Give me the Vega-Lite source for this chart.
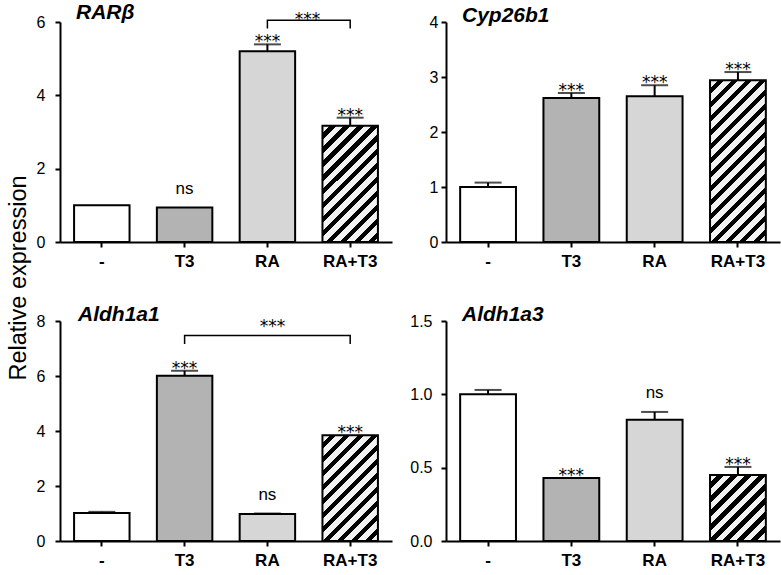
{
"$schema":"https://vega.github.io/schema/vega-lite/v6.json",
"padding":{"left":6,"top":2,"right":3,"bottom":3},
"background":"#ffffff",
"title":{"text":"Relative expression","orient":"left","anchor":"middle","fontSize":23.5,"fontWeight":"normal","fontStyle":"normal","font":"Liberation Sans","color":"#000","offset":6,"dx":7},
"datasets":{
"bars":[
{"panel":"RARβ","g":"-","mean":1.0,"upper":1.0,"sig":""},
{"panel":"RARβ","g":"T3","mean":0.94,"upper":0.94,"sig":"ns"},
{"panel":"RARβ","g":"RA","mean":5.2,"upper":5.39,"sig":"***"},
{"panel":"RARβ","g":"RA+T3","mean":3.17,"upper":3.39,"sig":"***"},
{"panel":"Cyp26b1","g":"-","mean":1.0,"upper":1.08,"sig":""},
{"panel":"Cyp26b1","g":"T3","mean":2.62,"upper":2.71,"sig":"***"},
{"panel":"Cyp26b1","g":"RA","mean":2.65,"upper":2.85,"sig":"***"},
{"panel":"Cyp26b1","g":"RA+T3","mean":2.94,"upper":3.09,"sig":"***"},
{"panel":"Aldh1a1","g":"-","mean":1.02,"upper":1.06,"sig":""},
{"panel":"Aldh1a1","g":"T3","mean":6.01,"upper":6.19,"sig":"***"},
{"panel":"Aldh1a1","g":"RA","mean":0.98,"upper":1.0,"sig":"ns"},
{"panel":"Aldh1a1","g":"RA+T3","mean":3.85,"upper":3.85,"sig":"***"},
{"panel":"Aldh1a3","g":"-","mean":1.0,"upper":1.03,"sig":""},
{"panel":"Aldh1a3","g":"T3","mean":0.43,"upper":0.43,"sig":"***"},
{"panel":"Aldh1a3","g":"RA","mean":0.827,"upper":0.88,"sig":"ns"},
{"panel":"Aldh1a3","g":"RA+T3","mean":0.45,"upper":0.505,"sig":"***"}
],
"brackets":[
{"panel":"RARβ","g":"RA","y":5.82,"o":1},{"panel":"RARβ","g":"RA","y":6.05,"o":2},{"panel":"RARβ","g":"RA+T3","y":6.05,"o":3},{"panel":"RARβ","g":"RA+T3","y":5.82,"o":4},
{"panel":"Aldh1a1","g":"T3","y":7.16,"o":1},{"panel":"Aldh1a1","g":"T3","y":7.47,"o":2},{"panel":"Aldh1a1","g":"RA+T3","y":7.47,"o":3},{"panel":"Aldh1a1","g":"RA+T3","y":7.16,"o":4}
],
"bracketLabels":[
{"panel":"RARβ","g":"RA","y":6.0,"label":"***"},
{"panel":"Aldh1a1","g":"RA","y":7.71,"label":"***"}
]
},
"columns":2,
"spacing":{"row":35,"column":17},
"concat":[
{
"width":332,"height":220,
"title":{"text":"RARβ","anchor":"start","frame":"group","dx":16,"fontSize":21,"fontStyle":"italic","fontWeight":"bold","font":"Liberation Sans","color":"#000","offset":-29,"baseline":"alphabetic"},
"encoding":{"x":{"field":"g","type":"nominal","title":null,"scale":{"domain":["-","T3","RA","RA+T3"],"paddingInner":0.33,"paddingOuter":0.17},"axis":{"labelAngle":0,"labelFontWeight":"bold","labelFontSize":17,"labelPadding":6}}},
"layer":[
{"data":{"name":"bars"},"transform":[{"filter":"datum.panel==='RARβ'"}],"mark":{"type":"bar","stroke":"#000","strokeWidth":2},
"encoding":{"y":{"field":"mean","type":"quantitative","title":null,"scale":{"domain":[0,6],"nice":false},"axis":{"values":[0,2,4,6],"format":"d","labelPadding":10}},
"fill":{"condition":[{"test":"datum.g==='-'","value":"#ffffff"},{"test":"datum.g==='T3'","value":"#b3b3b3"},{"test":"datum.g==='RA'","value":"#d6d6d6"}],
"value":{"gradient":"linear","x1":0,"y1":0,"x2":0.746,"y2":1.565,"stops":[
{"offset":0,"color":"#f2f2f2"},{"offset":0.0344,"color":"#f2f2f2"},{"offset":0.0344,"color":"#000"},{"offset":0.0625,"color":"#000"},
{"offset":0.0625,"color":"#f2f2f2"},{"offset":0.0969,"color":"#f2f2f2"},{"offset":0.0969,"color":"#000"},{"offset":0.125,"color":"#000"},
{"offset":0.125,"color":"#f2f2f2"},{"offset":0.1594,"color":"#f2f2f2"},{"offset":0.1594,"color":"#000"},{"offset":0.1875,"color":"#000"},
{"offset":0.1875,"color":"#f2f2f2"},{"offset":0.2219,"color":"#f2f2f2"},{"offset":0.2219,"color":"#000"},{"offset":0.25,"color":"#000"},
{"offset":0.25,"color":"#f2f2f2"},{"offset":0.2844,"color":"#f2f2f2"},{"offset":0.2844,"color":"#000"},{"offset":0.3125,"color":"#000"},
{"offset":0.3125,"color":"#f2f2f2"},{"offset":0.3469,"color":"#f2f2f2"},{"offset":0.3469,"color":"#000"},{"offset":0.375,"color":"#000"},
{"offset":0.375,"color":"#f2f2f2"},{"offset":0.4094,"color":"#f2f2f2"},{"offset":0.4094,"color":"#000"},{"offset":0.4375,"color":"#000"},
{"offset":0.4375,"color":"#f2f2f2"},{"offset":0.4719,"color":"#f2f2f2"},{"offset":0.4719,"color":"#000"},{"offset":0.5,"color":"#000"},
{"offset":0.5,"color":"#f2f2f2"},{"offset":0.5344,"color":"#f2f2f2"},{"offset":0.5344,"color":"#000"},{"offset":0.5625,"color":"#000"},
{"offset":0.5625,"color":"#f2f2f2"},{"offset":0.5969,"color":"#f2f2f2"},{"offset":0.5969,"color":"#000"},{"offset":0.625,"color":"#000"},
{"offset":0.625,"color":"#f2f2f2"},{"offset":0.6594,"color":"#f2f2f2"},{"offset":0.6594,"color":"#000"},{"offset":0.6875,"color":"#000"},
{"offset":0.6875,"color":"#f2f2f2"},{"offset":0.7219,"color":"#f2f2f2"},{"offset":0.7219,"color":"#000"},{"offset":0.75,"color":"#000"},
{"offset":0.75,"color":"#f2f2f2"},{"offset":0.7844,"color":"#f2f2f2"},{"offset":0.7844,"color":"#000"},{"offset":0.8125,"color":"#000"},
{"offset":0.8125,"color":"#f2f2f2"},{"offset":0.8469,"color":"#f2f2f2"},{"offset":0.8469,"color":"#000"},{"offset":0.875,"color":"#000"},
{"offset":0.875,"color":"#f2f2f2"},{"offset":0.9094,"color":"#f2f2f2"},{"offset":0.9094,"color":"#000"},{"offset":0.9375,"color":"#000"},
{"offset":0.9375,"color":"#f2f2f2"},{"offset":0.9719,"color":"#f2f2f2"},{"offset":0.9719,"color":"#000"},{"offset":1,"color":"#000"}]}}}},
{"data":{"name":"bars"},"transform":[{"filter":"datum.panel==='RARβ' && datum.upper>datum.mean"}],"mark":{"type":"rule","strokeWidth":2,"color":"#000"},
"encoding":{"y":{"field":"mean","type":"quantitative","title":null,"scale":{"domain":[0,6],"nice":false}},"y2":{"field":"upper"}}},
{"data":{"name":"bars"},"transform":[{"filter":"datum.panel==='RARβ' && datum.upper>datum.mean"}],"mark":{"type":"tick","size":27,"thickness":2,"color":"#000"},
"encoding":{"y":{"field":"upper","type":"quantitative","title":null,"scale":{"domain":[0,6],"nice":false}}}},
{"data":{"name":"bars"},"transform":[{"filter":"datum.panel==='RARβ' && datum.sig==='***'"}],"mark":{"type":"text","font":"DejaVu Sans","fontSize":17,"dy":3,"baseline":"alphabetic","color":"#000"},
"encoding":{"y":{"field":"upper","type":"quantitative","title":null,"scale":{"domain":[0,6],"nice":false}},"text":{"field":"sig"}}},
{"data":{"name":"bars"},"transform":[{"filter":"datum.panel==='RARβ' && datum.sig==='ns'"}],"mark":{"type":"text","font":"Liberation Sans","fontSize":17,"dy":-13.6,"baseline":"alphabetic","color":"#000"},
"encoding":{"y":{"field":"upper","type":"quantitative","title":null,"scale":{"domain":[0,6],"nice":false}},"text":{"field":"sig"}}},
{"data":{"name":"brackets"},"transform":[{"filter":"datum.panel==='RARβ'"}],"mark":{"type":"line","color":"#000","strokeWidth":1.5},
"encoding":{"y":{"field":"y","type":"quantitative","title":null,"scale":{"domain":[0,6],"nice":false}},"order":{"field":"o"}}},
{"data":{"name":"bracketLabels"},"transform":[{"filter":"datum.panel==='RARβ'"}],"mark":{"type":"text","font":"DejaVu Sans","fontSize":17,"dy":3,"dx":40,"baseline":"alphabetic","color":"#000"},
"encoding":{"y":{"field":"y","type":"quantitative","title":null,"scale":{"domain":[0,6],"nice":false}},"text":{"field":"label"}}}
]
},
{
"width":334,"height":220,
"title":{"text":"Cyp26b1","anchor":"start","frame":"group","dx":16,"fontSize":21,"fontStyle":"italic","fontWeight":"bold","font":"Liberation Sans","color":"#000","offset":-29,"baseline":"alphabetic"},
"encoding":{"x":{"field":"g","type":"nominal","title":null,"scale":{"domain":["-","T3","RA","RA+T3"],"paddingInner":0.33,"paddingOuter":0.17},"axis":{"labelAngle":0,"labelFontWeight":"bold","labelFontSize":17,"labelPadding":6}}},
"layer":[
{"data":{"name":"bars"},"transform":[{"filter":"datum.panel==='Cyp26b1'"}],"mark":{"type":"bar","stroke":"#000","strokeWidth":2},
"encoding":{"y":{"field":"mean","type":"quantitative","title":null,"scale":{"domain":[0,4],"nice":false},"axis":{"values":[0,1,2,3,4],"format":"d","labelPadding":3}},
"fill":{"condition":[{"test":"datum.g==='-'","value":"#ffffff"},{"test":"datum.g==='T3'","value":"#b3b3b3"},{"test":"datum.g==='RA'","value":"#d6d6d6"}],
"value":{"gradient":"linear","x1":0,"y1":0,"x2":0.426,"y2":1.239,"stops":[
{"offset":0,"color":"#f2f2f2"},{"offset":0.0344,"color":"#f2f2f2"},{"offset":0.0344,"color":"#000"},{"offset":0.0625,"color":"#000"},
{"offset":0.0625,"color":"#f2f2f2"},{"offset":0.0969,"color":"#f2f2f2"},{"offset":0.0969,"color":"#000"},{"offset":0.125,"color":"#000"},
{"offset":0.125,"color":"#f2f2f2"},{"offset":0.1594,"color":"#f2f2f2"},{"offset":0.1594,"color":"#000"},{"offset":0.1875,"color":"#000"},
{"offset":0.1875,"color":"#f2f2f2"},{"offset":0.2219,"color":"#f2f2f2"},{"offset":0.2219,"color":"#000"},{"offset":0.25,"color":"#000"},
{"offset":0.25,"color":"#f2f2f2"},{"offset":0.2844,"color":"#f2f2f2"},{"offset":0.2844,"color":"#000"},{"offset":0.3125,"color":"#000"},
{"offset":0.3125,"color":"#f2f2f2"},{"offset":0.3469,"color":"#f2f2f2"},{"offset":0.3469,"color":"#000"},{"offset":0.375,"color":"#000"},
{"offset":0.375,"color":"#f2f2f2"},{"offset":0.4094,"color":"#f2f2f2"},{"offset":0.4094,"color":"#000"},{"offset":0.4375,"color":"#000"},
{"offset":0.4375,"color":"#f2f2f2"},{"offset":0.4719,"color":"#f2f2f2"},{"offset":0.4719,"color":"#000"},{"offset":0.5,"color":"#000"},
{"offset":0.5,"color":"#f2f2f2"},{"offset":0.5344,"color":"#f2f2f2"},{"offset":0.5344,"color":"#000"},{"offset":0.5625,"color":"#000"},
{"offset":0.5625,"color":"#f2f2f2"},{"offset":0.5969,"color":"#f2f2f2"},{"offset":0.5969,"color":"#000"},{"offset":0.625,"color":"#000"},
{"offset":0.625,"color":"#f2f2f2"},{"offset":0.6594,"color":"#f2f2f2"},{"offset":0.6594,"color":"#000"},{"offset":0.6875,"color":"#000"},
{"offset":0.6875,"color":"#f2f2f2"},{"offset":0.7219,"color":"#f2f2f2"},{"offset":0.7219,"color":"#000"},{"offset":0.75,"color":"#000"},
{"offset":0.75,"color":"#f2f2f2"},{"offset":0.7844,"color":"#f2f2f2"},{"offset":0.7844,"color":"#000"},{"offset":0.8125,"color":"#000"},
{"offset":0.8125,"color":"#f2f2f2"},{"offset":0.8469,"color":"#f2f2f2"},{"offset":0.8469,"color":"#000"},{"offset":0.875,"color":"#000"},
{"offset":0.875,"color":"#f2f2f2"},{"offset":0.9094,"color":"#f2f2f2"},{"offset":0.9094,"color":"#000"},{"offset":0.9375,"color":"#000"},
{"offset":0.9375,"color":"#f2f2f2"},{"offset":0.9719,"color":"#f2f2f2"},{"offset":0.9719,"color":"#000"},{"offset":1,"color":"#000"}]}}}},
{"data":{"name":"bars"},"transform":[{"filter":"datum.panel==='Cyp26b1' && datum.upper>datum.mean"}],"mark":{"type":"rule","strokeWidth":2,"color":"#000"},
"encoding":{"y":{"field":"mean","type":"quantitative","title":null,"scale":{"domain":[0,4],"nice":false}},"y2":{"field":"upper"}}},
{"data":{"name":"bars"},"transform":[{"filter":"datum.panel==='Cyp26b1' && datum.upper>datum.mean"}],"mark":{"type":"tick","size":27,"thickness":2,"color":"#000"},
"encoding":{"y":{"field":"upper","type":"quantitative","title":null,"scale":{"domain":[0,4],"nice":false}}}},
{"data":{"name":"bars"},"transform":[{"filter":"datum.panel==='Cyp26b1' && datum.sig==='***'"}],"mark":{"type":"text","font":"DejaVu Sans","fontSize":17,"dy":3,"baseline":"alphabetic","color":"#000"},
"encoding":{"y":{"field":"upper","type":"quantitative","title":null,"scale":{"domain":[0,4],"nice":false}},"text":{"field":"sig"}}}
]
},
{
"width":332,"height":220,
"title":{"text":"Aldh1a1","anchor":"start","frame":"group","dx":18,"fontSize":21,"fontStyle":"italic","fontWeight":"bold","font":"Liberation Sans","color":"#000","offset":-29,"baseline":"alphabetic"},
"encoding":{"x":{"field":"g","type":"nominal","title":null,"scale":{"domain":["-","T3","RA","RA+T3"],"paddingInner":0.33,"paddingOuter":0.17},"axis":{"labelAngle":0,"labelFontWeight":"bold","labelFontSize":17,"labelPadding":6}}},
"layer":[
{"data":{"name":"bars"},"transform":[{"filter":"datum.panel==='Aldh1a1'"}],"mark":{"type":"bar","stroke":"#000","strokeWidth":2},
"encoding":{"y":{"field":"mean","type":"quantitative","title":null,"scale":{"domain":[0,8],"nice":false},"axis":{"values":[0,2,4,6,8],"format":"d","labelPadding":10}},
"fill":{"condition":[{"test":"datum.g==='-'","value":"#ffffff"},{"test":"datum.g==='T3'","value":"#b3b3b3"},{"test":"datum.g==='RA'","value":"#d6d6d6"}],
"value":{"gradient":"linear","x1":0,"y1":0,"x2":0.871,"y2":1.658,"stops":[
{"offset":0,"color":"#f2f2f2"},{"offset":0.0344,"color":"#f2f2f2"},{"offset":0.0344,"color":"#000"},{"offset":0.0625,"color":"#000"},
{"offset":0.0625,"color":"#f2f2f2"},{"offset":0.0969,"color":"#f2f2f2"},{"offset":0.0969,"color":"#000"},{"offset":0.125,"color":"#000"},
{"offset":0.125,"color":"#f2f2f2"},{"offset":0.1594,"color":"#f2f2f2"},{"offset":0.1594,"color":"#000"},{"offset":0.1875,"color":"#000"},
{"offset":0.1875,"color":"#f2f2f2"},{"offset":0.2219,"color":"#f2f2f2"},{"offset":0.2219,"color":"#000"},{"offset":0.25,"color":"#000"},
{"offset":0.25,"color":"#f2f2f2"},{"offset":0.2844,"color":"#f2f2f2"},{"offset":0.2844,"color":"#000"},{"offset":0.3125,"color":"#000"},
{"offset":0.3125,"color":"#f2f2f2"},{"offset":0.3469,"color":"#f2f2f2"},{"offset":0.3469,"color":"#000"},{"offset":0.375,"color":"#000"},
{"offset":0.375,"color":"#f2f2f2"},{"offset":0.4094,"color":"#f2f2f2"},{"offset":0.4094,"color":"#000"},{"offset":0.4375,"color":"#000"},
{"offset":0.4375,"color":"#f2f2f2"},{"offset":0.4719,"color":"#f2f2f2"},{"offset":0.4719,"color":"#000"},{"offset":0.5,"color":"#000"},
{"offset":0.5,"color":"#f2f2f2"},{"offset":0.5344,"color":"#f2f2f2"},{"offset":0.5344,"color":"#000"},{"offset":0.5625,"color":"#000"},
{"offset":0.5625,"color":"#f2f2f2"},{"offset":0.5969,"color":"#f2f2f2"},{"offset":0.5969,"color":"#000"},{"offset":0.625,"color":"#000"},
{"offset":0.625,"color":"#f2f2f2"},{"offset":0.6594,"color":"#f2f2f2"},{"offset":0.6594,"color":"#000"},{"offset":0.6875,"color":"#000"},
{"offset":0.6875,"color":"#f2f2f2"},{"offset":0.7219,"color":"#f2f2f2"},{"offset":0.7219,"color":"#000"},{"offset":0.75,"color":"#000"},
{"offset":0.75,"color":"#f2f2f2"},{"offset":0.7844,"color":"#f2f2f2"},{"offset":0.7844,"color":"#000"},{"offset":0.8125,"color":"#000"},
{"offset":0.8125,"color":"#f2f2f2"},{"offset":0.8469,"color":"#f2f2f2"},{"offset":0.8469,"color":"#000"},{"offset":0.875,"color":"#000"},
{"offset":0.875,"color":"#f2f2f2"},{"offset":0.9094,"color":"#f2f2f2"},{"offset":0.9094,"color":"#000"},{"offset":0.9375,"color":"#000"},
{"offset":0.9375,"color":"#f2f2f2"},{"offset":0.9719,"color":"#f2f2f2"},{"offset":0.9719,"color":"#000"},{"offset":1,"color":"#000"}]}}}},
{"data":{"name":"bars"},"transform":[{"filter":"datum.panel==='Aldh1a1' && datum.upper>datum.mean"}],"mark":{"type":"rule","strokeWidth":2,"color":"#000"},
"encoding":{"y":{"field":"mean","type":"quantitative","title":null,"scale":{"domain":[0,8],"nice":false}},"y2":{"field":"upper"}}},
{"data":{"name":"bars"},"transform":[{"filter":"datum.panel==='Aldh1a1' && datum.upper>datum.mean"}],"mark":{"type":"tick","size":27,"thickness":2,"color":"#000"},
"encoding":{"y":{"field":"upper","type":"quantitative","title":null,"scale":{"domain":[0,8],"nice":false}}}},
{"data":{"name":"bars"},"transform":[{"filter":"datum.panel==='Aldh1a1' && datum.sig==='***'"}],"mark":{"type":"text","font":"DejaVu Sans","fontSize":17,"dy":3,"baseline":"alphabetic","color":"#000"},
"encoding":{"y":{"field":"upper","type":"quantitative","title":null,"scale":{"domain":[0,8],"nice":false}},"text":{"field":"sig"}}},
{"data":{"name":"bars"},"transform":[{"filter":"datum.panel==='Aldh1a1' && datum.sig==='ns'"}],"mark":{"type":"text","font":"Liberation Sans","fontSize":17,"dy":-13.6,"baseline":"alphabetic","color":"#000"},
"encoding":{"y":{"field":"upper","type":"quantitative","title":null,"scale":{"domain":[0,8],"nice":false}},"text":{"field":"sig"}}},
{"data":{"name":"brackets"},"transform":[{"filter":"datum.panel==='Aldh1a1'"}],"mark":{"type":"line","color":"#000","strokeWidth":1.5},
"encoding":{"y":{"field":"y","type":"quantitative","title":null,"scale":{"domain":[0,8],"nice":false}},"order":{"field":"o"}}},
{"data":{"name":"bracketLabels"},"transform":[{"filter":"datum.panel==='Aldh1a1'"}],"mark":{"type":"text","font":"DejaVu Sans","fontSize":17,"dy":3,"dx":5,"baseline":"alphabetic","color":"#000"},
"encoding":{"y":{"field":"y","type":"quantitative","title":null,"scale":{"domain":[0,8],"nice":false}},"text":{"field":"label"}}}
]
},
{
"width":334,"height":220,
"title":{"text":"Aldh1a3","anchor":"start","frame":"group","dx":16,"fontSize":21,"fontStyle":"italic","fontWeight":"bold","font":"Liberation Sans","color":"#000","offset":-29,"baseline":"alphabetic"},
"encoding":{"x":{"field":"g","type":"nominal","title":null,"scale":{"domain":["-","T3","RA","RA+T3"],"paddingInner":0.33,"paddingOuter":0.17},"axis":{"labelAngle":0,"labelFontWeight":"bold","labelFontSize":17,"labelPadding":6}}},
"layer":[
{"data":{"name":"bars"},"transform":[{"filter":"datum.panel==='Aldh1a3'"}],"mark":{"type":"bar","stroke":"#000","strokeWidth":2},
"encoding":{"y":{"field":"mean","type":"quantitative","title":null,"scale":{"domain":[0,1.5],"nice":false},"axis":{"values":[0,0.5,1,1.5],"format":".1f","labelPadding":9}},
"fill":{"condition":[{"test":"datum.g==='-'","value":"#ffffff"},{"test":"datum.g==='T3'","value":"#b3b3b3"},{"test":"datum.g==='RA'","value":"#d6d6d6"}],
"value":{"gradient":"linear","x1":0,"y1":0,"x2":1.673,"y2":1.979,"stops":[
{"offset":0,"color":"#f2f2f2"},{"offset":0.0344,"color":"#f2f2f2"},{"offset":0.0344,"color":"#000"},{"offset":0.0625,"color":"#000"},
{"offset":0.0625,"color":"#f2f2f2"},{"offset":0.0969,"color":"#f2f2f2"},{"offset":0.0969,"color":"#000"},{"offset":0.125,"color":"#000"},
{"offset":0.125,"color":"#f2f2f2"},{"offset":0.1594,"color":"#f2f2f2"},{"offset":0.1594,"color":"#000"},{"offset":0.1875,"color":"#000"},
{"offset":0.1875,"color":"#f2f2f2"},{"offset":0.2219,"color":"#f2f2f2"},{"offset":0.2219,"color":"#000"},{"offset":0.25,"color":"#000"},
{"offset":0.25,"color":"#f2f2f2"},{"offset":0.2844,"color":"#f2f2f2"},{"offset":0.2844,"color":"#000"},{"offset":0.3125,"color":"#000"},
{"offset":0.3125,"color":"#f2f2f2"},{"offset":0.3469,"color":"#f2f2f2"},{"offset":0.3469,"color":"#000"},{"offset":0.375,"color":"#000"},
{"offset":0.375,"color":"#f2f2f2"},{"offset":0.4094,"color":"#f2f2f2"},{"offset":0.4094,"color":"#000"},{"offset":0.4375,"color":"#000"},
{"offset":0.4375,"color":"#f2f2f2"},{"offset":0.4719,"color":"#f2f2f2"},{"offset":0.4719,"color":"#000"},{"offset":0.5,"color":"#000"},
{"offset":0.5,"color":"#f2f2f2"},{"offset":0.5344,"color":"#f2f2f2"},{"offset":0.5344,"color":"#000"},{"offset":0.5625,"color":"#000"},
{"offset":0.5625,"color":"#f2f2f2"},{"offset":0.5969,"color":"#f2f2f2"},{"offset":0.5969,"color":"#000"},{"offset":0.625,"color":"#000"},
{"offset":0.625,"color":"#f2f2f2"},{"offset":0.6594,"color":"#f2f2f2"},{"offset":0.6594,"color":"#000"},{"offset":0.6875,"color":"#000"},
{"offset":0.6875,"color":"#f2f2f2"},{"offset":0.7219,"color":"#f2f2f2"},{"offset":0.7219,"color":"#000"},{"offset":0.75,"color":"#000"},
{"offset":0.75,"color":"#f2f2f2"},{"offset":0.7844,"color":"#f2f2f2"},{"offset":0.7844,"color":"#000"},{"offset":0.8125,"color":"#000"},
{"offset":0.8125,"color":"#f2f2f2"},{"offset":0.8469,"color":"#f2f2f2"},{"offset":0.8469,"color":"#000"},{"offset":0.875,"color":"#000"},
{"offset":0.875,"color":"#f2f2f2"},{"offset":0.9094,"color":"#f2f2f2"},{"offset":0.9094,"color":"#000"},{"offset":0.9375,"color":"#000"},
{"offset":0.9375,"color":"#f2f2f2"},{"offset":0.9719,"color":"#f2f2f2"},{"offset":0.9719,"color":"#000"},{"offset":1,"color":"#000"}]}}}},
{"data":{"name":"bars"},"transform":[{"filter":"datum.panel==='Aldh1a3' && datum.upper>datum.mean"}],"mark":{"type":"rule","strokeWidth":2,"color":"#000"},
"encoding":{"y":{"field":"mean","type":"quantitative","title":null,"scale":{"domain":[0,1.5],"nice":false}},"y2":{"field":"upper"}}},
{"data":{"name":"bars"},"transform":[{"filter":"datum.panel==='Aldh1a3' && datum.upper>datum.mean"}],"mark":{"type":"tick","size":27,"thickness":2,"color":"#000"},
"encoding":{"y":{"field":"upper","type":"quantitative","title":null,"scale":{"domain":[0,1.5],"nice":false}}}},
{"data":{"name":"bars"},"transform":[{"filter":"datum.panel==='Aldh1a3' && datum.sig==='***'"}],"mark":{"type":"text","font":"DejaVu Sans","fontSize":17,"dy":3,"baseline":"alphabetic","color":"#000"},
"encoding":{"y":{"field":"upper","type":"quantitative","title":null,"scale":{"domain":[0,1.5],"nice":false}},"text":{"field":"sig"}}},
{"data":{"name":"bars"},"transform":[{"filter":"datum.panel==='Aldh1a3' && datum.sig==='ns'"}],"mark":{"type":"text","font":"Liberation Sans","fontSize":17,"dy":-13.6,"baseline":"alphabetic","color":"#000"},
"encoding":{"y":{"field":"upper","type":"quantitative","title":null,"scale":{"domain":[0,1.5],"nice":false}},"text":{"field":"sig"}}}
]
}
],
"config":{
"view":{"stroke":null},
"axis":{"labelFont":"Liberation Sans","labelColor":"#000","domainColor":"#000","tickColor":"#000","domainWidth":2,"tickWidth":2,"tickSize":5,"grid":false,"labelFontSize":16}
}
}
